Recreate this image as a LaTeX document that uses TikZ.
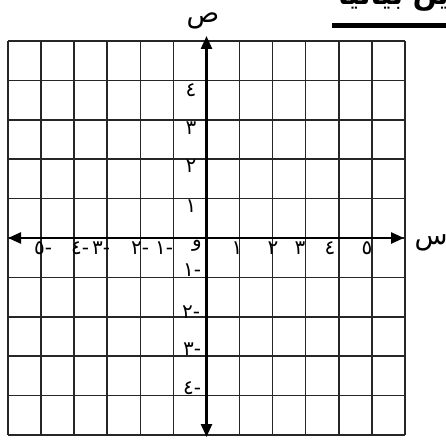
\documentclass[tikz,border=0pt]{standalone}
\usepackage{fontspec}
\usetikzlibrary{arrows.meta}
\TeXXeTstate=1
\newfontfamily\arabicfont[Script=Arabic]{DejaVu Sans}
\begin{document}
\begin{tikzpicture}[x=1pt,y=-1pt,
  gridline/.style={line width=1.5pt,black!85},
  axisline/.style={line width=2.4pt,black,{Triangle[length=13pt,width=11pt]}-{Triangle[length=13pt,width=11pt]}},
  lbl/.style={font=\arabicfont\fontsize{20}{20}\selectfont,inner sep=0pt},
  axlbl/.style={font=\arabicfont\fontsize{27}{27}\selectfont,inner sep=0pt,anchor=base}]
\useasboundingbox (0,0) rectangle (446,441);
\fill[white] (0,0) rectangle (446,441);
% grid
\foreach \i in {0,...,12} \draw[gridline] ({8+33.08*\i},41) -- ({8+33.08*\i},435);
\foreach \j in {0,...,10} \draw[gridline] (8,{41+39.4*\j}) -- (405,{41+39.4*\j});
% axes
\coordinate (xl) at (8,238);
\coordinate (xr) at (404,238);
\coordinate (yt) at (206.5,36);
\coordinate (yb) at (206.5,437);
\draw[axisline] (xl) -- (xr);
\draw[axisline] (yb) -- (yt);
% axis names
\node[axlbl] (ys) at (203,23) {\beginR ص\endR};
\node[axlbl] (xs) at (431,244) {\beginR س\endR};
% x labels
\node[lbl] (xm5) at (43,248) {\beginR -٥\endR};
\node[lbl] (xm4) at (80,248) {\beginR -٤\endR};
\node[lbl] (xm3) at (101,248) {\beginR -٣\endR};
\node[lbl] (xm2) at (140,248) {\beginR -٢\endR};
\node[lbl] (xm1) at (164,248) {\beginR -١\endR};
\node[lbl] (o) at (197,246) {\beginR و\endR};
\node[lbl] (xp1) at (237,248) {١};
\node[lbl] (xp2) at (273,248) {٢};
\node[lbl] (xp3) at (300,248) {٣};
\node[lbl] (xp4) at (330,248) {٤};
\node[lbl] (xp5) at (367,248) {٥};
% y labels
\node[lbl] (yp4) at (191,90) {٤};
\node[lbl] (yp3) at (191,128) {٣};
\node[lbl] (yp2) at (191,166) {٢};
\node[lbl] (yp1) at (191,206) {١};
\node[lbl] (ym1) at (192,270) {\beginR -١\endR};
\node[lbl] (ym2) at (191,312) {\beginR -٢\endR};
\node[lbl] (ym3) at (192,349) {\beginR -٣\endR};
\node[lbl] (ym4) at (192,388) {\beginR -٤\endR};
% title (cut off at the picture's edge, as in the reference)
\begin{scope}
\clip (0,0) rectangle (446,441);
\node[font=\arabicfont\bfseries\fontsize{28}{28}\selectfont,inner sep=0pt,anchor=base west] (title) at (338,5) {\beginR ين بيانيا\endR};
\fill (332,23) rectangle (446,28);
\end{scope}
\end{tikzpicture}
\end{document}
